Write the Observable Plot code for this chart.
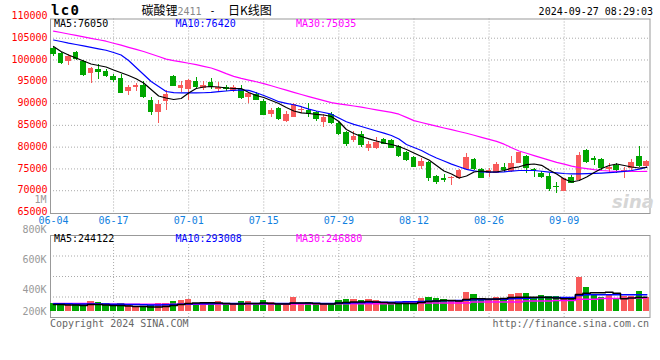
<!DOCTYPE html>
<html><head><meta charset="utf-8">
<script src="https://cdn.jsdelivr.net/npm/d3@7"></script>
<script src="https://cdn.jsdelivr.net/npm/@observablehq/plot@0.6"></script>
<style>
body{margin:0;background:#fff;}
#wrap{position:relative;width:660px;height:360px;overflow:hidden;background:#fff;}
#wrap svg{position:absolute;left:0;overflow:visible;}
.t{position:absolute;white-space:nowrap;font-family:"DejaVu Sans Mono",monospace;font-size:10px;line-height:10px;}
</style></head><body><div id="wrap"></div>
<script>
const dates = ["06-04","06-05","06-06","06-07","06-11","06-12","06-13","06-14","06-17","06-18","06-19","06-20","06-21","06-24","06-25","06-26","06-27","06-28",
"07-01","07-02","07-03","07-04","07-05","07-08","07-09","07-10","07-11","07-12","07-15","07-16","07-17","07-18","07-19","07-22","07-23","07-24","07-25","07-26","07-29","07-30","07-31",
"08-01","08-02","08-05","08-06","08-07","08-08","08-09","08-12","08-13","08-14","08-15","08-16","08-19","08-20","08-21","08-22","08-23","08-26","08-27","08-28","08-29","08-30",
"09-02","09-03","09-04","09-05","09-06","09-09","09-10","09-11","09-12","09-13","09-18","09-19","09-20","09-23","09-24","09-25","09-26"];
const openP = [102560,101570,99660,101720,99660,96900,97820,97360,96290,95680,
92850,93760,94150,90700,87950,90550,96290,93540,93230,95060,
93540,94760,93150,93760,93000,93150,91470,92080,90550,87410,
88790,85880,86880,88410,88410,88030,85730,87490,85430,83400,
81520,82790,79690,79690,81680,81520,80070,78770,77620,75630,
76480,73260,72880,72730,72880,74790,77160,74870,73870,74030,
75400,74490,76320,77850,74790,73870,73340,71040,69820,72960,
72340,79230,77470,77090,74830,75860,74410,75020,77850,75670];
const highP = [102940,101720,101260,101950,99880,98200,98970,97820,96670,96590,
94150,94680,95140,91470,90700,93000,96520,95140,95450,96060,
95060,95830,94840,94150,94150,94150,92230,92460,90930,88950,
89170,88260,90090,89330,90090,88260,87410,88030,85730,83670,
83590,83590,81220,82140,81910,81750,80300,78960,77850,77470,
76710,73490,73650,73260,74790,78620,77470,75020,75020,76550,
76320,77850,78850,78080,75020,74490,73870,71960,72880,73490,
78850,79380,77850,77320,76250,76170,75400,77090,80150,76930];
const lowP = [100800,98890,98810,99880,96210,94680,95600,96060,94910,92230,
91850,92770,91240,87190,85500,88410,93840,92620,90700,93150,
93000,93150,92620,92770,92460,91010,89940,90630,87190,86730,
86110,85730,86730,87640,86880,85880,84580,85200,82750,80150,
81140,79990,79080,79500,80530,79610,77620,76780,75250,74870,
72190,71350,71960,71200,72570,74640,74640,72730,72960,73870,
74260,74260,76170,74030,73110,72730,69900,69280,69740,71580,
72190,76170,75790,74640,74030,73870,72730,74640,75400,75400];
const closeP = [101260,99120,100800,100040,96440,98050,97210,96290,95290,92390,
93760,94070,91470,88030,89790,92080,93990,94150,95290,93610,
94150,93610,93610,93230,93610,91240,92230,90780,87260,88410,
86340,87490,89710,88640,87410,86340,86880,85350,82900,80680,
82480,80380,80610,81060,80680,79730,77810,77010,75400,76740,
72880,71960,72340,73110,74640,77700,74870,72880,74640,75940,
74640,76320,78690,75020,74490,73110,70200,70810,72730,71730,
78080,76550,76930,75100,75330,74720,74640,76520,75600,76740];
const ma5 = [103100,101950,101150,100460,99770,99080,98740,98390,97700,97080,
96440,95710,94720,93230,91740,91280,90930,91160,92430,93460,
93800,93920,93800,93570,93460,93460,92540,91850,91390,90700,
90020,89100,88290,87880,87720,87540,87380,87030,85890,84050,
83130,82440,81910,81410,80950,80610,80150,79460,78660,77850,
77050,75790,74520,73840,72920,73380,74300,74520,74340,74300,
74640,75210,75490,75970,76130,75830,74750,73840,72690,72000,
72340,73150,74180,75100,75790,76130,75790,75440,75210,75330];
const ma10 = [104590,104250,103880,103560,103240,102910,102570,102230,101720,101150,
99880,98280,96670,95070,93920,92770,92490,92470,92450,92460,
92480,92560,92720,92880,93050,93140,93020,92470,91850,91160,
90430,90060,89720,89280,88730,88290,87950,87560,86690,85820,
85240,84740,84230,83700,83200,82670,81870,80610,79920,79230,
78310,77510,76820,76110,75490,74910,74570,74300,74250,74250,
74320,74500,74640,74640,74640,74460,74270,74110,73950,73880,
73880,73910,73970,74040,74130,74250,74430,74640,74960,75400];
const ma30 = [106630,106310,105970,105640,105300,104980,104640,104310,103850,103400,
102910,102450,101950,101380,100800,100210,99860,99560,99260,98920,
98530,98160,97570,96860,96240,95780,95390,95000,94580,94080,
93570,93070,92560,92080,91600,91120,90660,90220,89950,89690,
89440,89170,88870,88570,88270,87970,87560,86830,86090,85660,
85220,84810,84390,84000,83590,83180,82720,82240,81780,81320,
80680,79870,79110,78590,78040,77530,77030,76520,76090,75650,
75280,75050,74820,74640,74520,74450,74420,74410,74410,74420];
const volK = [311,309,305,311,311,327,320,311,298,313,
307,295,295,300,313,313,327,333,340,315,
315,318,327,305,307,327,327,311,333,320,
307,311,353,311,322,311,311,311,333,340,
340,333,340,333,318,309,318,327,315,347,
353,347,340,333,333,387,375,340,340,353,
347,373,380,380,353,367,362,360,349,349,
489,420,367,353,367,340,360,360,393,355];
const volMa5K = [307,307,303,303,300,307,307,303,300,300,
297,293,293,290,290,293,300,307,313,317,
318,318,317,313,310,310,313,313,317,313,
310,310,317,317,317,313,310,310,317,320,
323,323,327,323,320,317,313,313,313,320,
327,330,333,333,330,340,345,345,343,343,
347,353,355,355,355,355,353,350,345,345,
373,382,385,385,389,382,345,350,353,355];
const volMa10K = [311,311,311,310,310,310,310,310,308,308,
307,307,305,303,303,305,307,308,310,311,
311,311,313,313,313,313,313,313,313,313,
313,313,315,315,315,315,313,313,315,315,
318,318,320,322,322,322,323,325,325,327,
329,330,331,331,333,335,338,338,340,342,
342,345,347,349,351,353,353,353,353,353,
367,371,371,371,371,371,371,371,371,371];
const volMa30K = [313,313,313,313,313,313,308,308,308,308,
308,308,308,308,308,308,308,308,308,308,
308,310,310,310,310,310,310,310,310,310,
310,310,310,310,310,310,311,311,311,311,
311,311,311,311,311,311,317,317,317,317,
317,317,317,317,317,317,323,323,323,323,
323,323,323,330,330,330,330,333,333,333,
341,341,341,347,347,347,347,350,350,350];
const dateTicks = ["06-04","06-17","07-01","07-15","07-29","08-12","08-26","09-09"];
const priceTicks = [110000,105000,100000,95000,90000,85000,80000,75000,70000,65000];
const volTickValues = [1000,800,600,400,200];
const volTickLabels = ["1M","800K","600K","400K","200K"];
const volFloorK = 260;
const priceLegend = ["MA5:76050","MA10:76420","MA30:75035"];
const volLegend = ["MA5:244122","MA10:293008","MA30:246880"];

const RED = "#f85a5a", GREEN = "#00a600", GRID = "#aaa", FRAME = "#999";
const MONO = "DejaVu Sans Mono";
const candles = dates.map((d, i) => ({
  i, d, o: openP[i], h: highP[i], l: lowP[i], c: closeP[i],
  up: closeP[i] >= openP[i],
  ma5: ma5[i], ma10: ma10[i], ma30: ma30[i],
  v: volK[i], vm5: volMa5K[i], vm10: volMa10K[i], vm30: volMa30K[i]
}));
const col = d => d.up ? RED : GREEN;
const tickIdx = dateTicks.map(t => dates.indexOf(t));
const xDomain = [-0.4, 79.43];
const yDomain = [64770, 109408];
const vDomain = [220, 766.67];
const volGrid = [1, 2, 3].map(k => vDomain[0] + k * (vDomain[1] - vDomain[0]) / 4);

const main = Plot.plot({
  width: 660, height: 235,
  marginLeft: 50, marginRight: 10.5, marginTop: 18.5, marginBottom: 22,
  style: {background: "transparent", overflow: "visible"},
  x: {type: "linear", domain: xDomain, axis: null},
  y: {type: "linear", domain: yDomain, axis: null},
  color: {type: "identity"},
  marks: [
    Plot.ruleY(priceTicks.filter(v => v > 65000 && v < 110000), {stroke: GRID, strokeDasharray: "1,2"}),
    Plot.ruleX(tickIdx.slice(1), {stroke: GRID, strokeDasharray: "1,2"}),
    Plot.frame({stroke: FRAME}),
    Plot.ruleX(candles, {x: "i", y1: "l", y2: "h", stroke: col, strokeWidth: 1, shapeRendering: "crispEdges"}),
    Plot.rect(candles, {x1: d => d.i - 0.37, x2: d => d.i + 0.37, y1: "o", y2: "c", fill: col, shapeRendering: "crispEdges"}),
    Plot.line(candles, {x: "i", y: "ma30", stroke: "#ff00ff", strokeWidth: 1.2}),
    Plot.line(candles, {x: "i", y: "ma10", stroke: "#0000ff", strokeWidth: 1.2}),
    Plot.line(candles, {x: "i", y: "ma5", stroke: "#000", strokeWidth: 1.2}),
    Plot.text(priceTicks, {y: d => d, text: d => String(d), frameAnchor: "left", dx: -3, dy: -0.5, textAnchor: "end",
      fill: "#ff0000", fontFamily: MONO, fontSize: 10}),
    Plot.text(tickIdx, {x: d => d, text: d => dates[d], frameAnchor: "bottom", dy: 10,
      fill: "#1080e0", fontFamily: MONO, fontSize: 10})
  ]
});
main.style.top = "0px";

const vol = Plot.plot({
  width: 660, height: 170,
  marginLeft: 50, marginRight: 10.5, marginTop: 45, marginBottom: 43,
  style: {background: "transparent", overflow: "visible"},
  x: {type: "linear", domain: xDomain, axis: null},
  y: {type: "linear", domain: vDomain, axis: null},
  color: {type: "identity"},
  marks: [
    Plot.ruleY(volGrid, {stroke: GRID, strokeDasharray: "1,2"}),
    Plot.ruleX(tickIdx.slice(1), {stroke: GRID, strokeDasharray: "1,2"}),
    Plot.frame({stroke: FRAME}),
    Plot.rect(candles, {x1: d => d.i - 0.42, x2: d => d.i + 0.42, y1: volFloorK, y2: "v", fill: col, shapeRendering: "crispEdges"}),
    Plot.line(candles, {x: "i", y: "vm30", curve: "step", stroke: "#ff00ff", strokeWidth: 1.5}),
    Plot.line(candles, {x: "i", y: "vm10", curve: "step", stroke: "#0000ff", strokeWidth: 1.5}),
    Plot.line(candles, {x: "i", y: "vm5", curve: "step", stroke: "#000", strokeWidth: 1.5}),
    Plot.text(volTickValues.slice(0, 4), {y: d => d, text: (d, k) => volTickLabels[k], frameAnchor: "left", dx: -4, dy: -0.8,
      textAnchor: "end", fill: "#999", fontFamily: MONO, fontSize: 10}),
    Plot.text(volTickValues.slice(4), {y: d => d, text: d => volTickLabels[4], frameAnchor: "left", dx: -4, dy: -9,
      textAnchor: "end", fill: "#999", fontFamily: MONO, fontSize: 10})
  ]
});
vol.style.top = "190px";

const wrap = document.getElementById("wrap");
wrap.appendChild(main);
wrap.appendChild(vol);

function addText(txt, css) {
  const s = document.createElement("div");
  s.className = "t";
  s.textContent = txt;
  Object.assign(s.style, css);
  wrap.appendChild(s);
}
const legendColors = ["#000", "#0000ff", "#ff00ff"];
const legendX = [54, 175.5, 296];
priceLegend.forEach((t, k) => addText(t, {left: legendX[k] + "px", top: "18.5px", color: legendColors[k]}));
volLegend.forEach((t, k) => addText(t, {left: legendX[k] + "px", top: "234px", color: legendColors[k]}));
addText("lc0", {left: "51px", top: "3px", fontSize: "14px", lineHeight: "14px", fontWeight: "bold", letterSpacing: "1.3px", color: "#000"});
addText("碳酸锂", {left: "141.5px", top: "4px", fontFamily: "Noto Sans CJK SC", fontSize: "12px", lineHeight: "12px", color: "#000"});
addText("2411", {left: "177.5px", top: "6.5px", color: "#888", fontSize: "10px"});
addText("-", {left: "209.5px", top: "6px", color: "#000", fontSize: "10px"});
addText("日K线图", {left: "228px", top: "4px", fontFamily: "Noto Sans CJK SC", fontSize: "12px", lineHeight: "12px", color: "#000"});
addText("2024-09-27 08:29:03", {right: "7px", top: "6.5px", color: "#000"});
addText("Copyright 2024 SINA.COM", {left: "50px", top: "318.5px", color: "#666"});
addText("http://finance.sina.com.cn", {right: "11px", top: "318.5px", color: "#666"});
addText("sina", {left: "612px", top: "193px", fontFamily: "DejaVu Sans", fontStyle: "italic", fontWeight: "bold", fontSize: "18px", lineHeight: "18px", color: "#d6d6d6"});
</script></body></html>
